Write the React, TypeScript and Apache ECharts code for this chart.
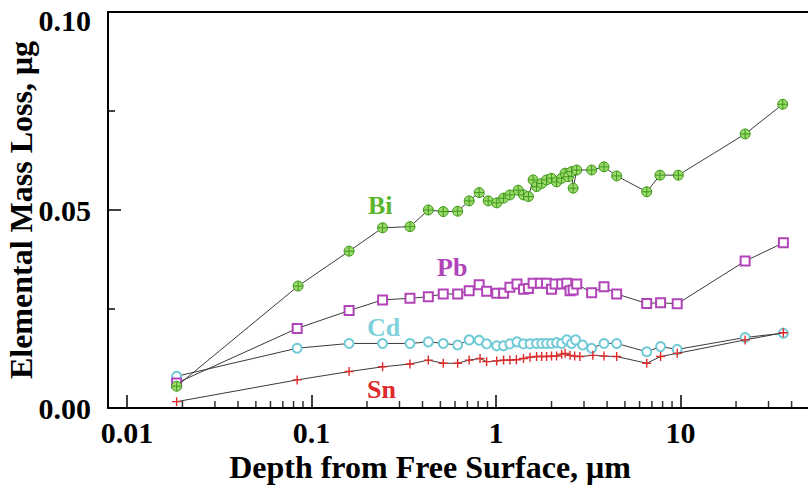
import React, { useEffect, useRef } from "react";
import * as echarts from "echarts";

// Depth from free surface (µm) for each measured point
const depthBi = [0.0186, 0.0847, 0.16, 0.243, 0.342, 0.43, 0.518, 0.62, 0.716, 0.811, 0.908, 1.01, 1.1, 1.19, 1.32, 1.41, 1.5, 1.59, 1.66, 1.77, 1.88, 2.0, 2.13, 2.27, 2.37, 2.47, 2.57, 2.62, 2.74, 3.3, 3.85, 4.51, 6.56, 7.74, 9.73, 22.4, 35.8];
const massBi = [0.0055, 0.0308, 0.0396, 0.0455, 0.0458, 0.05, 0.0496, 0.0497, 0.0523, 0.0544, 0.0523, 0.0518, 0.053, 0.0538, 0.055, 0.0538, 0.0534, 0.0576, 0.0559, 0.0567, 0.0576, 0.058, 0.0571, 0.058, 0.0593, 0.0584, 0.0597, 0.0555, 0.0601, 0.0601, 0.0609, 0.0586, 0.0546, 0.0588, 0.0588, 0.0692, 0.0767];

const depthPb = [0.0186, 0.0837, 0.16, 0.243, 0.342, 0.43, 0.518, 0.62, 0.716, 0.811, 0.89, 1.01, 1.1, 1.19, 1.3, 1.41, 1.5, 1.59, 1.74, 1.88, 2.0, 2.09, 2.27, 2.42, 2.52, 2.62, 2.74, 3.3, 3.85, 4.51, 6.56, 7.8, 9.6, 22.4, 36.1];
const massPb = [0.0063, 0.0201, 0.0246, 0.0273, 0.0277, 0.0281, 0.0288, 0.0288, 0.0296, 0.0311, 0.0295, 0.029, 0.029, 0.0305, 0.0313, 0.03, 0.0302, 0.0315, 0.0315, 0.0315, 0.03, 0.0313, 0.0313, 0.0315, 0.0296, 0.0298, 0.0313, 0.0291, 0.0306, 0.0288, 0.0264, 0.0266, 0.0263, 0.0371, 0.0417];

const depthCd = [0.0186, 0.0837, 0.16, 0.243, 0.342, 0.43, 0.518, 0.62, 0.716, 0.811, 0.89, 1.01, 1.1, 1.19, 1.3, 1.41, 1.53, 1.66, 1.77, 1.88, 2.0, 2.13, 2.27, 2.42, 2.57, 2.7, 2.95, 3.3, 3.85, 4.51, 6.56, 7.8, 9.6, 22.4, 36.1];
const massCd = [0.008, 0.0151, 0.0163, 0.0163, 0.0163, 0.0167, 0.0163, 0.0159, 0.0172, 0.0171, 0.0162, 0.0157, 0.0157, 0.0162, 0.0167, 0.0162, 0.0162, 0.0163, 0.0163, 0.0163, 0.0163, 0.0165, 0.0163, 0.0172, 0.0163, 0.0172, 0.0159, 0.0151, 0.0163, 0.0163, 0.0142, 0.0155, 0.0148, 0.0178, 0.0189];

const depthSn = [0.0186, 0.0837, 0.16, 0.243, 0.342, 0.43, 0.518, 0.62, 0.716, 0.82, 0.89, 1.01, 1.1, 1.19, 1.29, 1.41, 1.53, 1.66, 1.77, 1.88, 2.0, 2.13, 2.27, 2.37, 2.52, 2.67, 2.85, 3.35, 3.85, 4.51, 6.56, 7.8, 9.6, 22.4, 36.1];
const massSn = [0.0016, 0.0071, 0.0092, 0.0104, 0.0111, 0.0121, 0.0113, 0.0113, 0.0121, 0.0125, 0.0117, 0.0119, 0.0121, 0.0121, 0.0122, 0.0125, 0.0128, 0.013, 0.013, 0.013, 0.0131, 0.0131, 0.0136, 0.0138, 0.0133, 0.0131, 0.013, 0.0133, 0.0131, 0.013, 0.0113, 0.013, 0.0138, 0.0172, 0.019];

const seriesNames = ["Bi", "Pb", "Cd", "Sn"];
const xMajorTicks = [0.01, 0.1, 1, 10];
const xMinorTicks = [0.02, 0.03, 0.04, 0.05, 0.06, 0.07, 0.08, 0.09, 0.2, 0.3, 0.4, 0.5, 0.6, 0.7, 0.8, 0.9, 2, 3, 4, 5, 6, 7, 8, 9, 20, 30, 40];
const yTicks = [0, 0.05, 0.1];

const FONT = "'Liberation Serif', 'Times New Roman', serif";
const X_MIN = 0.0079;
const X_MAX = 63;

const pair = (xs: number[], ys: number[]) => xs.map((x, i) => [x, ys[i]]);

export default function App() {
  const ref = useRef<HTMLDivElement>(null);

  useEffect(() => {
    if (!ref.current) return;
    const chart = echarts.init(ref.current, null, { renderer: "svg" });

    const isMajor = (v: number) => xMajorTicks.some((m) => Math.abs(Math.log10(v) - Math.log10(m)) < 1e-6);
    const yMax = yTicks[yTicks.length - 1];

    const lineCommon = {
      type: "line" as const,
      xAxisIndex: 0,
      yAxisIndex: 0,
      showAllSymbol: true,
      lineStyle: { color: "#3a3a3a", width: 1 },
      emphasis: { disabled: true },
      silent: true,
    };

    const tickFont = { fontFamily: FONT, fontWeight: "bold", fontSize: 30, lineHeight: 28, color: "#000" };

    const option: any = {
      animation: false,
      backgroundColor: "#ffffff",
      grid: { left: 108, top: 12, width: 720, height: 396, containLabel: false, outerBoundsMode: "none" },
      xAxis: [
        {
          type: "log",
          logBase: 10,
          min: X_MIN,
          max: X_MAX,
          position: "bottom",
          name: "Depth from Free Surface, \u03bcm",
          nameLocation: "middle",
          nameMoveOverlap: false,
          nameGap: 43,
          nameTextStyle: {
            fontFamily: FONT,
            fontWeight: "bold",
            fontSize: 32,
            lineHeight: 32,
            color: "#000",
            padding: [0, 76, 0, 0],
          },
          axisLine: { show: true, lineStyle: { color: "#000", width: 2 } },
          axisTick: { show: true, inside: true, length: 13, lineStyle: { color: "#000", width: 1.5 } },
          minorTick: { show: false },
          splitLine: { show: false },
          axisLabel: {
            showMinLabel: false,
            showMaxLabel: false,
            margin: 10,
            ...tickFont,
            formatter: (v: number) => (isMajor(v) ? String(Number(v.toPrecision(6))) : ""),
          },
        },
        {
          type: "log",
          logBase: 10,
          min: X_MIN,
          max: X_MAX,
          position: "top",
          axisLine: { show: true, lineStyle: { color: "#000", width: 2 } },
          axisTick: { show: false },
          axisLabel: { show: false },
          splitLine: { show: false },
        },
      ],
      yAxis: {
        type: "value",
        min: yTicks[0],
        max: yMax,
        interval: 0.05,
        name: "Elemental Mass Loss, \u03bcg",
        nameLocation: "middle",
        nameMoveOverlap: false,
        nameGap: 71,
        nameTextStyle: { fontFamily: FONT, fontWeight: "bold", fontSize: 32, color: "#000" },
        axisLine: { show: true, lineStyle: { color: "#000", width: 2 } },
        axisTick: { show: true, inside: true, length: 13, lineStyle: { color: "#000", width: 1.5 } },
        minorTick: { show: true, splitNumber: 2, length: 7, lineStyle: { color: "#000", width: 1.5 } },
        splitLine: { show: false },
        axisLabel: {
          margin: 17,
          ...tickFont,
          formatter: (v: number) => (Math.abs(v - yMax) < 1e-9 ? `{top|${v.toFixed(2)}}` : v.toFixed(2)),
          rich: {
            top: { ...tickFont, padding: [16, 0, 0, 0] },
          },
        },
      },
      series: [
        {
          ...lineCommon,
          name: seriesNames[0],
          data: pair(depthBi, massBi),
          symbol: "path://M5,0A5,5 0 1,1 5,10A5,5 0 1,1 5,0ZM0,5L10,5M5,0L5,10",
          symbolSize: 10,
          itemStyle: { color: "#9bd86a", borderColor: "#3f9a1c", borderWidth: 1 },
          z: 4,
        },
        {
          ...lineCommon,
          name: seriesNames[1],
          data: pair(depthPb, massPb),
          symbol: "emptyRect",
          symbolSize: 9,
          itemStyle: { color: "#b144b8", borderWidth: 1.2 },
          z: 3,
        },
        {
          ...lineCommon,
          name: seriesNames[2],
          data: pair(depthCd, massCd),
          symbol: "emptyCircle",
          symbolSize: 9,
          itemStyle: { color: "#6fcad6", borderWidth: 1.2 },
          z: 2,
        },
        {
          ...lineCommon,
          name: seriesNames[3],
          data: pair(depthSn, massSn),
          symbol: "path://M0,5L10,5M5,0L5,10",
          symbolSize: 9,
          itemStyle: { color: "rgba(0,0,0,0)", borderColor: "#e02a2a", borderWidth: 1.4 },
          z: 5,
        },
        {
          type: "scatter",
          name: "minorTicks",
          xAxisIndex: 0,
          yAxisIndex: 0,
          data: xMinorTicks.map((v) => [v, 0]),
          symbol: "rect",
          symbolSize: [1.5, 7],
          symbolOffset: [0, "-50%"],
          itemStyle: { color: "#000" },
          silent: true,
          clip: false,
          z: 6,
        },
      ],
      graphic: [
        { type: "text", left: 368, top: 192, style: { text: "Bi", fill: "#5bb52a", font: `bold 26px ${FONT}` } },
        { type: "text", left: 437, top: 254, style: { text: "Pb", fill: "#b144b8", font: `bold 26px ${FONT}` } },
        { type: "text", left: 367, top: 314, style: { text: "Cd", fill: "#7fd2dc", font: `bold 26px ${FONT}` } },
        { type: "text", left: 367, top: 376, style: { text: "Sn", fill: "#e02a2a", font: `bold 26px ${FONT}` } },
      ],
    };

    chart.setOption(option);
    return () => chart.dispose();
  }, []);

  return (
    <div
      ref={ref}
      style={{ position: "fixed", left: 0, top: 0, width: 808, height: 486, background: "#fff" }}
    />
  );
}
